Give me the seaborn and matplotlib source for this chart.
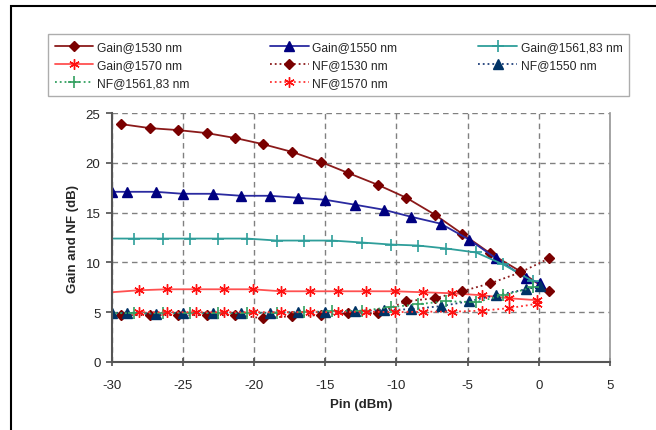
import numpy as np
import matplotlib
matplotlib.use("Agg")
import matplotlib.pyplot as plt
import seaborn as sns
from matplotlib.patches import Rectangle

# Pin (dBm) sample points for each wavelength
pin_1530 = [-29.3, -27.3, -25.3, -23.3, -21.3, -19.4, -17.3, -15.3, -13.4, -11.3, -9.3, -7.3, -5.4, -3.4, -1.3, 0.7]
pin_1550 = [-30.0, -28.9, -26.9, -25.0, -22.9, -20.9, -18.9, -16.9, -15.0, -12.9, -10.9, -9.0, -6.9, -4.9, -3.0, -0.9, 0.1]
pin_1561 = [-30.4, -28.4, -26.4, -24.5, -22.5, -20.5, -18.4, -16.5, -14.5, -12.4, -10.4, -8.5, -6.5, -4.4, -2.5, -0.4]
pin_1570 = [-30.0, -28.1, -26.1, -24.1, -22.1, -20.1, -18.1, -16.1, -14.1, -12.1, -10.1, -8.1, -6.1, -4.0, -2.1, -0.1]
pin_nf1570 = [-28.1, -26.1, -24.1, -22.1, -20.1, -18.1, -16.1, -14.1, -12.1, -10.1, -8.1, -6.1, -4.0, -2.1, -0.1]

# Gain (dB)
gain_1530 = [23.9, 23.5, 23.3, 23.0, 22.5, 21.9, 21.1, 20.1, 19.0, 17.8, 16.5, 14.8, 12.9, 10.9, 9.1, 7.1]
gain_1550 = [17.1, 17.1, 17.1, 16.9, 16.9, 16.7, 16.7, 16.5, 16.3, 15.8, 15.3, 14.6, 13.9, 12.3, 10.4, 8.4, 7.9]
gain_1561 = [12.4, 12.4, 12.4, 12.4, 12.4, 12.4, 12.2, 12.2, 12.2, 12.0, 11.8, 11.7, 11.4, 11.0, 9.8, 8.1]
gain_1570 = [7.0, 7.2, 7.3, 7.3, 7.3, 7.3, 7.1, 7.1, 7.1, 7.1, 7.1, 7.0, 6.9, 6.7, 6.4, 6.2]

# Noise figure (dB)
nf_1530 = [4.7, 4.7, 4.7, 4.7, 4.7, 4.4, 4.6, 4.7, 4.9, 4.9, 6.1, 6.4, 7.1, 7.9, 9.0, 10.4]
nf_1550 = [4.9, 4.95, 4.8, 4.95, 4.9, 4.9, 4.95, 5.0, 5.05, 5.1, 5.2, 5.3, 5.6, 6.1, 6.7, 7.3, 7.6]
nf_1561 = [4.9, 4.9, 4.9, 4.95, 4.9, 4.9, 4.95, 5.0, 5.1, 5.15, 5.5, 5.8, 6.1, 6.0, 6.7, 7.5]
nf_1570 = [5.0, 5.0, 5.0, 5.0, 5.0, 5.0, 5.0, 5.0, 5.05, 5.0, 5.05, 5.05, 5.15, 5.4, 5.85]

sns.set_theme(style="ticks")
plt.rcParams['font.family'] = ['Liberation Sans', 'DejaVu Sans']
plt.rcParams['axes.unicode_minus'] = False

fig = plt.figure(figsize=(6.56, 4.31), dpi=100)
ax = fig.add_axes([0.170, 0.158, 0.760, 0.577])

star = (6, 2, 0)
# label, x, y, line colour, marker, linestyle, marker colour, marker size, edge width, markevery
series = [
    ("Gain@1530 nm", pin_1530, gain_1530, "#8B1A1A", "D", "-", "#7A0000", 5, 1.0, None),
    ("Gain@1550 nm", pin_1550, gain_1550, "#2A2AA0", "^", "-", "#000080", 6.5, 1.0, None),
    ("Gain@1561,83 nm", pin_1561, gain_1561, "#2E9E9A", "+", "-", "#2E9E9A", 8, 1.2, None),
    ("Gain@1570 nm", pin_1570, gain_1570, "#FF5050", star, "-", "#FF1010", 7.5, 1.0, slice(1, None)),
    ("NF@1530 nm", pin_1530, nf_1530, "#8B1A1A", "D", ":", "#7A0000", 5, 1.0, None),
    ("NF@1550 nm", pin_1550, nf_1550, "#1F3F7A", "^", ":", "#003366", 6.5, 1.0, None),
    ("NF@1561,83 nm", pin_1561, nf_1561, "#33A060", "+", ":", "#33A060", 8, 1.2, None),
    ("NF@1570 nm", pin_nf1570, nf_1570, "#FF3030", star, ":", "#FF1010", 7.5, 1.0, None),
]

for label, xs, ys, col, mk, ls, mcol, ms, mew, every in series:
    sns.lineplot(x=xs, y=ys, ax=ax, sort=False, color=col, linestyle=ls,
                 linewidth=1.3, marker=mk, markersize=ms, markerfacecolor=mcol,
                 markeredgecolor=mcol, markeredgewidth=mew, label=label,
                 markevery=every)
handles_list, labels_list = ax.get_legend_handles_labels()
ax.get_legend().remove()
handles = dict(zip(labels_list, handles_list))

ax.set_xlim(-30, 5)
ax.set_ylim(0, 25)
ax.set_xticks(range(-30, 6, 5))
ax.set_yticks(range(0, 26, 5))
ax.grid(True, color="#808080", linestyle=(0, (4, 3)), linewidth=1.0)
ax.set_axisbelow(True)
for s in ["left", "bottom"]:
    ax.spines[s].set_color("#555555")
    ax.spines[s].set_linewidth(1.5)
ax.spines["right"].set_color("#999999")
ax.spines["top"].set_visible(False)
ax.tick_params(axis="x", direction="inout", length=6, color="#555555", labelsize=9.5, pad=9)
ax.tick_params(axis="y", direction="out", length=4, color="#555555", labelsize=9.5, pad=4)
ax.set_xlabel("Pin (dBm)", fontsize=9.5, fontweight="bold", labelpad=5)
ax.set_ylabel("Gain and NF (dB)", fontsize=9.5, fontweight="bold", labelpad=5)

order = ["Gain@1530 nm", "Gain@1570 nm", "NF@1561,83 nm",
         "Gain@1550 nm", "NF@1530 nm", "NF@1570 nm",
         "Gain@1561,83 nm", "NF@1550 nm"]
leg = fig.legend([handles[o] for o in order], order, ncol=3, loc="upper left",
                 bbox_to_anchor=(0.073, 0.918, 0.886, 0.0), mode="expand",
                 borderaxespad=0.0, fontsize=8.7, frameon=True, fancybox=False,
                 edgecolor="#999999", handlelength=3.2, handletextpad=0.3,
                 labelspacing=0.5, borderpad=0.55, columnspacing=1.0)
leg.get_frame().set_linewidth(1.0)

fig.patches.append(Rectangle((11 / 656, -0.1), 1.2, 1 - 7 / 431 + 0.1,
                             transform=fig.transFigure, fill=False,
                             edgecolor="black", linewidth=1.5))

fig.savefig("out.png", dpi=100)
